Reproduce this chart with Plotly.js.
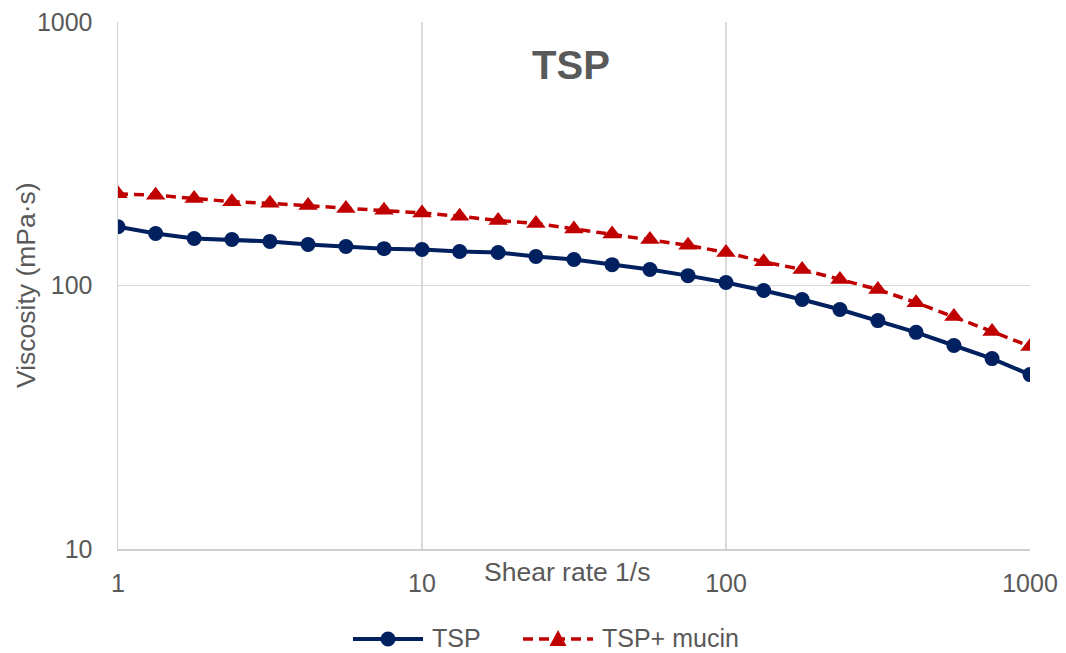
<!DOCTYPE html>
<html>
<head>
<meta charset="utf-8">
<script src="https://cdn.plot.ly/plotly-3.0.1.min.js"></script>
<style>
  html, body { margin: 0; padding: 0; background: #ffffff; }
  #chart { width: 1066px; height: 653px; }
</style>
</head>
<body>
<div id="chart"></div>
<script>
// Shear rate steps (1/s)
const shearRate = [1, 1.33, 1.78, 2.37, 3.16, 4.22, 5.62, 7.5, 10, 13.3, 17.8, 23.7, 31.6,
                   42.2, 56.2, 75, 100, 133, 178, 237, 316, 422, 562, 750, 1000];

// Viscosity (mPa·s)
const viscTSP = [167, 157.5, 150.8, 149.5, 147, 143, 140.6, 138, 137, 134.6, 133.4, 128.8, 125.5,
                 120, 115, 109, 102.7, 95.7, 88.5, 81.1, 73.6, 66.4, 59.2, 52.8, 45.9];
const viscTSPMucin = [223, 220, 214, 208, 205, 201, 196, 193, 188.5, 183, 176.5, 172, 164,
                      157, 149.5, 142, 133.5, 123, 115, 105.4, 96.6, 86.1, 76.2, 66.9, 58.7];

const seriesNames = ['TSP', 'TSP+ mucin'];
const xTicks = [1, 10, 100, 1000];
const yTicks = [10, 100, 1000];

const FONT = 'Arial, "Liberation Sans", sans-serif';
const GREY = '#595959';
const BLUE = '#002060';
const RED = '#c00000';
const DASH = '10px,6px';

// plot area in pixels: left 118, right 1030, top 22, bottom 549
const W = 1066, H = 653, L = 118, R = 36, T = 22, B = 104;
const PW = W - L - R, PH = H - T - B;
const px = v => (v - L) / PW;          // page x -> paper x
const py = v => (H - B - v) / PH;      // page y -> paper y

const traces = [
  {
    x: shearRate, y: viscTSP, name: seriesNames[0],
    type: 'scatter', mode: 'lines+markers', showlegend: false,
    line: { color: BLUE, width: 4 },
    marker: { symbol: 'circle', size: 15, color: BLUE }
  },
  {
    x: shearRate, y: viscTSPMucin, name: seriesNames[1],
    type: 'scatter', mode: 'lines+markers', showlegend: false,
    line: { color: RED, width: 3.5, dash: DASH },
    marker: { symbol: 'triangle-up', size: 17, color: RED }
  }
];

// Legend below the plot, drawn with shapes and text
const legY = 639;
const legendShapes = [
  { type: 'line', xref: 'paper', yref: 'paper', x0: px(353), x1: px(423), y0: py(legY), y1: py(legY),
    line: { color: BLUE, width: 4 } },
  { type: 'circle', xref: 'paper', yref: 'paper', xsizemode: 'pixel', ysizemode: 'pixel',
    xanchor: px(388), yanchor: py(legY), x0: -7.5, x1: 7.5, y0: -7.5, y1: 7.5,
    fillcolor: BLUE, line: { width: 0 } },
  { type: 'line', xref: 'paper', yref: 'paper', x0: px(523), x1: px(593), y0: py(legY), y1: py(legY),
    line: { color: RED, width: 3.5, dash: DASH } },
  { type: 'path', xref: 'paper', yref: 'paper', xsizemode: 'pixel', ysizemode: 'pixel',
    xanchor: px(558), yanchor: py(legY), path: 'M -8.5 -7 L 8.5 -7 L 0 9 Z',
    fillcolor: RED, line: { width: 0 } }
];

const legendText = [
  { text: seriesNames[0], x: px(430), y: py(legY - 1) },
  { text: seriesNames[1], x: px(600), y: py(legY - 1) }
].map(a => Object.assign(a, {
  xref: 'paper', yref: 'paper', xanchor: 'left', yanchor: 'middle', showarrow: false,
  font: { family: FONT, size: 25, color: GREY }
}));

const layout = {
  width: W, height: H,
  margin: { l: L, r: R, t: T, b: B, autoexpand: false },
  paper_bgcolor: '#ffffff', plot_bgcolor: '#ffffff',
  font: { family: FONT, size: 25, color: GREY },
  showlegend: false,
  title: {
    text: '<b>TSP</b>',
    font: { family: FONT, size: 40, color: GREY },
    xref: 'paper', x: px(571), xanchor: 'center',
    yref: 'container', y: 1 - 65 / H, yanchor: 'middle'
  },
  xaxis: {
    type: 'log', range: [0, 3],
    tickvals: xTicks, ticktext: xTicks.map(String),
    showgrid: true, gridcolor: '#d9d9d9', gridwidth: 1.5,
    showline: true, linecolor: '#d0d0d0', linewidth: 1.5,
    zeroline: false, ticks: '', ticklabelstandoff: 11,
    tickfont: { family: FONT, size: 25, color: GREY }
  },
  yaxis: {
    type: 'log', range: [1, 3],
    tickvals: yTicks, ticktext: yTicks.map(String),
    showgrid: true, gridcolor: '#d9d9d9', gridwidth: 1.5,
    showline: true, linecolor: '#d0d0d0', linewidth: 1.5,
    zeroline: false, ticks: '', ticklabelstandoff: 19,
    tickfont: { family: FONT, size: 25, color: GREY }
  },
  shapes: legendShapes,
  annotations: [
    {
      text: 'Shear rate 1/s', xref: 'paper', yref: 'paper',
      x: px(567), y: py(572), xanchor: 'center', yanchor: 'middle',
      showarrow: false, font: { family: FONT, size: 26.5, color: GREY }
    },
    {
      text: 'Viscosity (mPa·s)', xref: 'paper', yref: 'paper',
      x: px(26), y: py(285), xanchor: 'center', yanchor: 'middle',
      textangle: -90, showarrow: false, font: { family: FONT, size: 26.5, color: GREY }
    }
  ].concat(legendText)
};

Plotly.newPlot('chart', traces, layout, { displayModeBar: false, staticPlot: true });
</script>
</body>
</html>
